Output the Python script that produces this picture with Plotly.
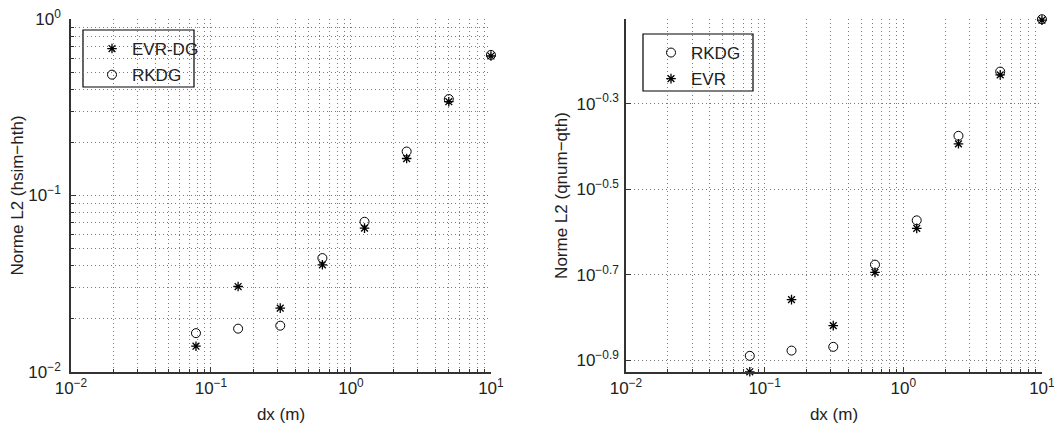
import numpy as np
import plotly.graph_objects as go

# ---- data ----
dx = [0.078125, 0.15625, 0.3125, 0.625, 1.25, 2.5, 5, 10]
h_evr_dg = [0.0140, 0.0305, 0.0230, 0.0405, 0.0653, 0.162, 0.340, 0.617]
h_rkdg = [0.0166, 0.0176, 0.0183, 0.0442, 0.0710, 0.1775, 0.352, 0.626]
q_rkdg = [0.1290, 0.1327, 0.1354, 0.2107, 0.2674, 0.4213, 0.5953, 0.789]
q_evr = [0.1184, 0.1746, 0.1518, 0.2021, 0.2561, 0.4036, 0.5847, 0.785]

x_ticks = [0.01, 0.1, 1, 10]
x_ticktext = ["10<sup>−2</sup>", "10<sup>−1</sup>", "10<sup>0</sup>", "10<sup>1</sup>"]
h_ticks = [0.01, 0.1, 1]
h_ticktext = ["10<sup>−2</sup>", "10<sup>−1</sup>", "10<sup>0</sup>"]
q_exps = [-0.9, -0.7, -0.5, -0.3]
q_ticks = [10 ** e for e in q_exps]
q_ticktext = ["10<sup>−%s</sup>" % str(abs(e)) for e in q_exps]

# page body has an 8px margin; shrink the figure so it fits the window
OFF = 8
W, H = 1062 - OFF, 431 - OFF
FONT = "Liberation Sans"
FS = 17
GRID = "#7a7a7a"
DASH = "1px,3px"

def px(x):
    return (x - OFF) / W

def py(y):
    return 1 - (y - OFF) / H

x_minor = [m * 10 ** k for k in range(-2, 1) for m in range(2, 10)]
h_minor = [m * 10 ** k for k in range(-2, 0) for m in range(2, 10)]

fig = go.Figure()

ast = dict(symbol="asterisk-open", size=8, color="black", line=dict(color="black", width=1.3))
circ = dict(symbol="circle-open", size=9, color="black", line=dict(color="black", width=1))

# left panel
fig.add_trace(go.Scatter(x=dx, y=h_evr_dg, mode="markers", name="EVR-DG", marker=ast,
                         cliponaxis=False, xaxis="x", yaxis="y", legend="legend", legendgroup="a"))
fig.add_trace(go.Scatter(x=dx, y=h_rkdg, mode="markers", name="RKDG", marker=circ,
                         cliponaxis=False, xaxis="x", yaxis="y", legend="legend", legendgroup="b"))
# right panel
fig.add_trace(go.Scatter(x=dx, y=q_rkdg, mode="markers", name="RKDG", marker=circ,
                         cliponaxis=False, xaxis="x2", yaxis="y2", legend="legend2", legendgroup="c"))
fig.add_trace(go.Scatter(x=dx, y=q_evr, mode="markers", name="EVR", marker=ast,
                         cliponaxis=False, xaxis="x2", yaxis="y2", legend="legend2", legendgroup="d"))

axis_common = dict(
    type="log", showline=True, linecolor="#333", linewidth=1.5, mirror=False,
    ticks="inside", ticklen=5, tickcolor="#333", zeroline=False,
    showgrid=True, gridcolor=GRID, griddash=DASH, gridwidth=1,
    tickfont=dict(family=FONT, size=FS, color="#222"),
    title_font=dict(family=FONT, size=FS, color="#222"),
    automargin=False, ticklabeloverflow="allow",
)
minor_common = dict(showgrid=True, gridcolor=GRID, griddash=DASH,
                    ticks="inside", ticklen=3, tickcolor="#333")

ydom = [py(372), py(19)]
q_all = q_rkdg + q_evr
q_range = [np.log10(min(q_all)) - 0.0005, np.log10(max(q_all)) + 0.0005]

fig.update_layout(
    width=W, height=H,
    margin=dict(l=0, r=0, t=0, b=0),
    paper_bgcolor="white", plot_bgcolor="white",
    font=dict(family=FONT, size=FS, color="#222"),
    xaxis=dict(axis_common, domain=[px(71), px(491)], range=[-2, 1.0005],
               tickvals=x_ticks, ticktext=x_ticktext,
               minor=dict(minor_common, tickvals=x_minor),
               title=dict(text="dx (m)", standoff=11), anchor="y"),
    yaxis=dict(axis_common, domain=ydom, range=[-2, 0],
               tickvals=h_ticks, ticktext=h_ticktext,
               minor=dict(minor_common, tickvals=h_minor),
               ticklabelstandoff=5,
               title=dict(text="Norme L2 (hsim−hth)", standoff=6), anchor="x"),
    xaxis2=dict(axis_common, domain=[px(626), px(1042)], range=[-2, 1.0005],
                tickvals=x_ticks, ticktext=x_ticktext,
                minor=dict(minor_common, tickvals=x_minor),
                title=dict(text="dx (m)", standoff=11), anchor="y2"),
    yaxis2=dict(axis_common, domain=ydom, range=q_range,
                tickvals=q_ticks, ticktext=q_ticktext,
                ticklabelstandoff=2,
                title=dict(text="Norme L2 (qnum−qth)", standoff=4), anchor="x2"),
    legend=dict(x=px(92), y=py(31), xanchor="left", yanchor="top",
                bgcolor="rgba(0,0,0,0)", borderwidth=0,
                font=dict(family=FONT, size=FS, color="#222"),
                traceorder="grouped", tracegroupgap=1),
    legend2=dict(x=px(651), y=py(35), xanchor="left", yanchor="top",
                 bgcolor="rgba(0,0,0,0)", borderwidth=0,
                 font=dict(family=FONT, size=FS, color="#222"),
                 traceorder="grouped", tracegroupgap=1),
    shapes=[
        dict(type="rect", xref="paper", yref="paper", x0=px(83), x1=px(194), y0=py(87), y1=py(30),
             line=dict(color="black", width=1.2), fillcolor="white", layer="below"),
        dict(type="rect", xref="paper", yref="paper", x0=px(643), x1=px(753), y0=py(91), y1=py(34),
             line=dict(color="black", width=1.2), fillcolor="white", layer="below"),
    ],
    showlegend=True,
)

fig.write_html("out.html")
